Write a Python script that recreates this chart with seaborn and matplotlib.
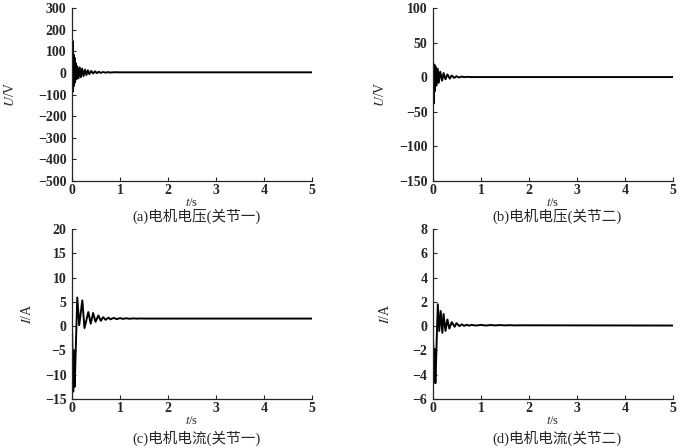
import matplotlib
matplotlib.use("Agg")
import matplotlib.pyplot as plt
import seaborn as sns

# (a) 电机电压(关节一)
t_a = [0, 0.012, 0.022, 0.032, 0.042, 0.052, 0.062, 0.075, 0.09, 0.11, 0.135, 0.16, 0.185,
       0.21, 0.24, 0.27, 0.3, 0.33, 0.36, 0.4, 0.44, 0.48, 0.52, 0.56, 0.6, 0.65, 0.7,
       0.75, 0.8, 0.9, 1.0, 5.0]
u_a = [0, 148, -86, 85, -60, 70, -45, 45, -30, 30, -25, 25, -20, 20, -15, 15, -10, 12,
       -6, 9, -3, 7, -1, 5, 0, 4, 1, 3.5, 1.5, 3, 2.5, 2.5]

# (b) 电机电压(关节二)
t_b = [0, 0.01, 0.018, 0.03, 0.04, 0.055, 0.075, 0.1, 0.12, 0.15, 0.19, 0.22, 0.26,
       0.3, 0.35, 0.39, 0.44, 0.49, 0.54, 0.6, 0.65, 0.71, 0.8, 5.0]
u_b = [0, 19, -38, 18, -20, 15, -12, 12, -8, 8, -5, 6, -3, 4, -2, 2.5, -1, 1.5, -0.5,
       1, 0, 0.5, 0.2, 0.2]

# (c) 电机电流(关节一)
t_c = [0, 0.025, 0.04, 0.055, 0.11, 0.15, 0.215, 0.26, 0.34, 0.39, 0.44, 0.49, 0.55,
       0.6, 0.65, 0.7, 0.76, 0.8, 0.87, 0.93, 1.0, 1.06, 1.13, 1.2, 1.28, 1.35, 1.43,
       1.5, 5.0]
i_c = [0, -13.5, -5, -12.5, 5.9, 0.2, 5.3, -0.4, 2.9, 0.5, 2.7, 0.9, 2.2, 1.1, 1.85,
       1.3, 1.75, 1.4, 1.7, 1.45, 1.65, 1.5, 1.62, 1.52, 1.6, 1.54, 1.58, 1.56, 1.56]

# (d) 电机电流(关节二)
t_d = [0, 0.02, 0.035, 0.05, 0.10, 0.13, 0.16, 0.195, 0.22, 0.26, 0.3, 0.34, 0.39,
       0.45, 0.49, 0.55, 0.6, 0.65, 0.7, 0.75, 0.8, 0.9, 1.0, 1.1, 1.2, 1.3, 1.4, 1.5,
       1.6, 1.7, 1.8, 5.0]
i_d = [-1.0, -3.3, -1.9, -4.7, 1.8, -0.4, 1.25, -0.55, 1.0, -0.4, 0.55, -0.2, 0.33,
       -0.05, 0.25, 0.0, 0.15, 0.02, 0.12, 0.04, 0.1, 0.05, 0.1, 0.05, 0.09, 0.06,
       0.09, 0.06, 0.08, 0.06, 0.07, 0.05]

captions = ["(a)电机电压(关节一)", "(b)电机电压(关节二)",
            "(c)电机电流(关节一)", "(d)电机电流(关节二)"]
ylabels = ["$U$/V", "$U$/V", "$I$/A", "$I$/A"]
ylims = [(-500, 300), (-150, 100), (-15, 20), (-6, 8)]
ysteps = [100, 50, 5, 2]

sns.set_style("ticks")
plt.rcParams.update({
    "font.family": ["Liberation Serif", "Noto Sans CJK SC"],
    "mathtext.fontset": "stix",
    "font.size": 10,
    "xtick.direction": "in",
    "ytick.direction": "in",
    "axes.linewidth": 0.9,
})

fig = plt.figure(figsize=(7, 4.48), dpi=100)
boxes = [
    [72 / 700, 1 - 181 / 448, 240 / 700, 173 / 448],
    [433 / 700, 1 - 181 / 448, 240 / 700, 173 / 448],
    [72 / 700, 1 - 399 / 448, 240 / 700, 170 / 448],
    [433 / 700, 1 - 399 / 448, 240 / 700, 170 / 448],
]
label_x = [-0.23, -0.19, -0.16, -0.17]
cap_y = [1 - 216 / 448, 1 - 216 / 448, 1 - 438 / 448, 1 - 438 / 448]

series = [(t_a, u_a), (t_b, u_b), (t_c, i_c), (t_d, i_d)]
for k, (tt, yy) in enumerate(series):
    ax = fig.add_axes(boxes[k])
    sns.lineplot(x=tt, y=yy, ax=ax, color="black", linewidth=1.4)
    lo, hi = ylims[k]
    ax.set_xlim(0, 5)
    ax.set_ylim(lo, hi)
    ax.set_xticks(range(0, 6))
    ax.set_yticks(range(lo, hi + 1, ysteps[k]))
    ax.tick_params(length=3, width=0.8, labelsize=10)
    ax.tick_params(axis="y", pad=4)
    ax.tick_params(axis="x", pad=2)
    for lab in ax.get_xticklabels() + ax.get_yticklabels():
        lab.set_fontweight("bold")
    sns.despine(ax=ax)
    ax.set_xlabel("$t$/s", fontsize=9, labelpad=0)
    ax.set_ylabel(ylabels[k], fontsize=10)
    ax.yaxis.set_label_coords(label_x[k], 0.5)
    cx = boxes[k][0] + boxes[k][2] / 2 + 4 / 700
    fig.text(cx, cap_y[k], captions[k], ha="center", va="center", fontsize=10.5)

fig.savefig("out.png", dpi=100)
